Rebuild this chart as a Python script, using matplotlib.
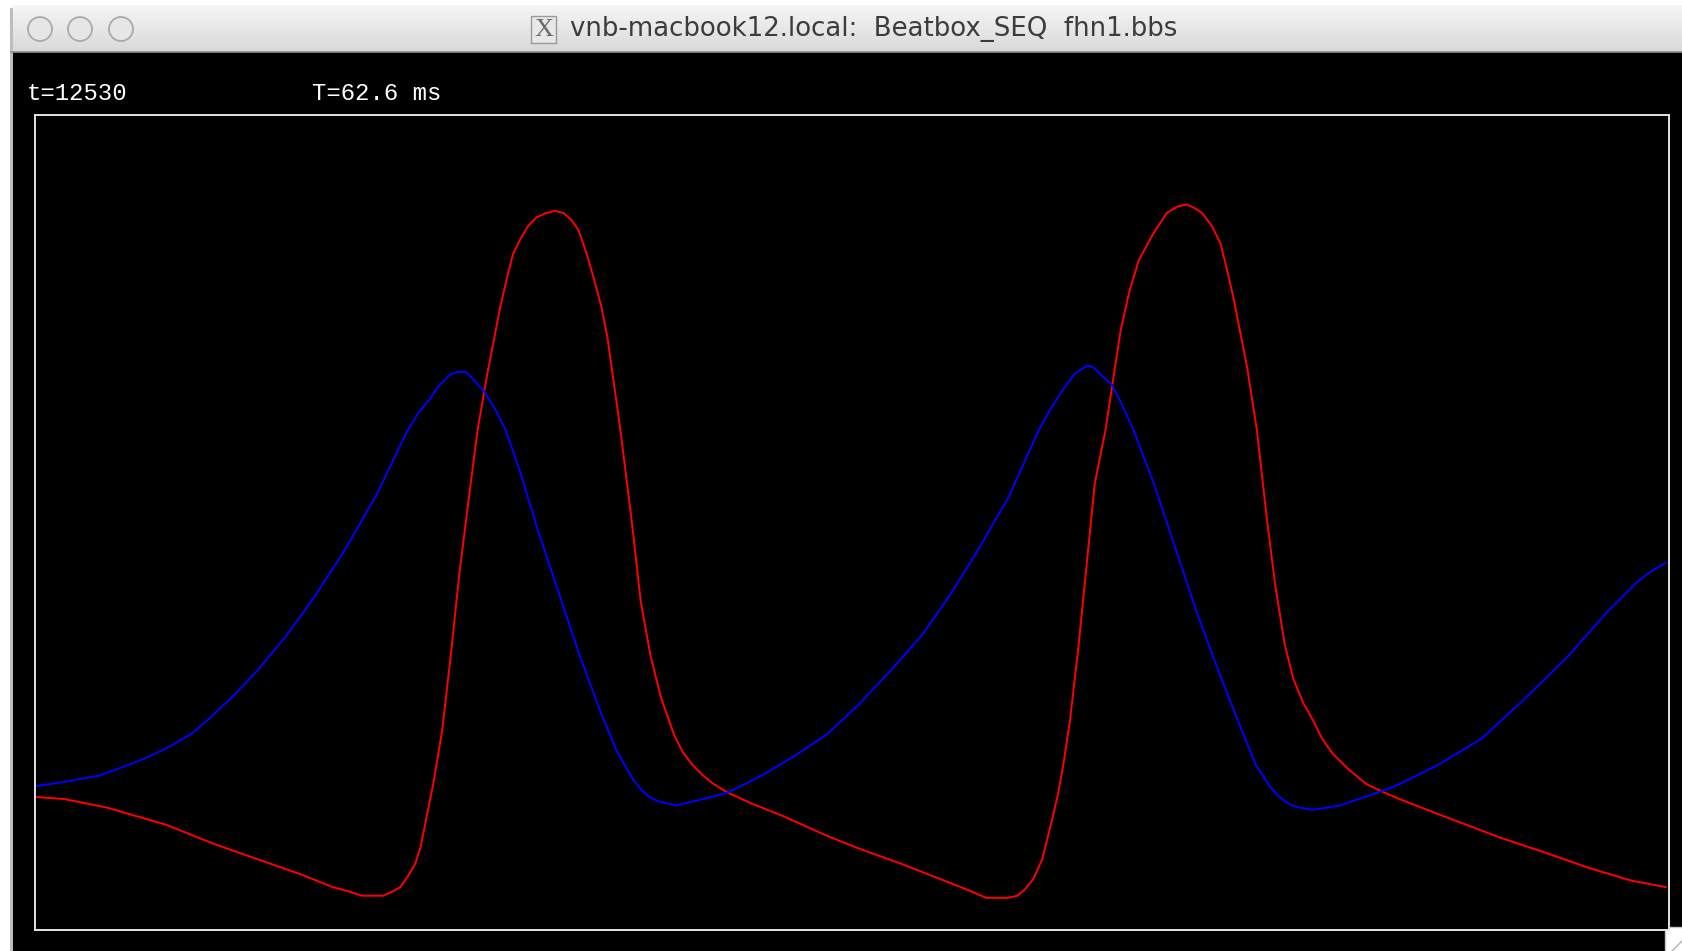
import matplotlib.pyplot as plt
import numpy as np
from matplotlib.patches import FancyBboxPatch, Rectangle, Circle
from matplotlib.colors import LinearSegmentedColormap

# spatial profile along the cable (node units): red = u, blue = v
x_u = [0.0, 2.7, 6.7, 12.2, 16.7, 20.7, 24.7, 27.7, 29.2, 30.4, 31.4, 32.4, 33.3,
       34.0, 34.7, 35.4, 35.9, 36.3, 36.7, 37.1, 37.5, 37.9, 38.7, 39.5, 40.3,
       41.2, 42.1, 43.3, 43.9, 44.5, 45.2, 45.9, 46.7, 47.6, 48.4, 49.2, 49.9,
       50.6, 51.3, 52.0, 52.7, 53.3, 54.5, 55.5, 56.4, 57.3, 58.3, 59.5, 60.3,
       61.2, 62.2, 63.2, 64.5, 66.7, 69.7, 73.7, 76.7, 80.6, 85.2, 87.2, 88.6,
       90.6, 91.5, 92.2, 93.0, 93.8, 94.3, 94.8, 95.3, 95.8, 96.4, 97.2, 97.9,
       98.7, 99.7, 101.1, 101.9, 102.8, 104.1, 105.4, 106.4, 107.3, 108.1, 108.7,
       109.6, 110.4, 111.0, 111.6, 112.9, 113.8, 114.7, 115.5, 116.4, 117.2,
       118.1, 119.0, 119.9, 120.9, 122.3, 124.0, 125.7, 127.1, 130.7, 136.5,
       140.7, 144.7, 148.7, 151.9]
u = [-1.28, -1.29, -1.33, -1.41, -1.50, -1.57, -1.64, -1.70, -1.72, -1.74, -1.74,
     -1.74, -1.72, -1.70, -1.65, -1.59, -1.51, -1.41, -1.31, -1.21, -1.09, -0.97,
     -0.62, -0.24, 0.08, 0.43, 0.69, 1.00, 1.13, 1.25, 1.32, 1.38, 1.42, 1.44,
     1.45, 1.44, 1.41, 1.36, 1.26, 1.14, 1.01, 0.86, 0.43, 0.03, -0.37, -0.62,
     -0.82, -0.99, -1.07, -1.13, -1.18, -1.22, -1.26, -1.31, -1.37, -1.46, -1.52,
     -1.59, -1.68, -1.72, -1.75, -1.75, -1.74, -1.71, -1.66, -1.57, -1.47, -1.37,
     -1.26, -1.12, -0.92, -0.57, -0.22, 0.18, 0.43, 0.89, 1.07, 1.22, 1.34, 1.44,
     1.47, 1.48, 1.46, 1.44, 1.38, 1.30, 1.18, 1.05, 0.72, 0.43, 0.03, -0.29,
     -0.57, -0.73, -0.84, -0.92, -1.01, -1.08, -1.15, -1.22, -1.26, -1.29, -1.36,
     -1.47, -1.54, -1.61, -1.67, -1.70]

x_v = [0.0, 2.7, 6.0, 8.7, 10.7, 12.7, 14.7, 16.3, 17.8, 19.2, 20.7, 23.2, 25.7,
       28.7, 31.7, 34.7, 35.7, 36.7, 37.5, 38.7, 39.4, 40.1, 40.7, 41.8, 42.9,
       43.8, 45.2, 46.7, 48.7, 50.7, 52.7, 54.2, 55.7, 56.5, 57.2, 58.0, 58.9,
       59.7, 60.5, 62.2, 64.5, 67.7, 70.7, 73.7, 76.7, 79.7, 82.7, 85.2, 87.7,
       90.7, 93.5, 94.5, 95.5, 96.8, 97.4, 98.0, 98.6, 99.2, 100.3, 101.3, 102.3,
       104.2, 106.2, 108.2, 110.2, 112.0, 113.7, 115.0, 115.7, 116.4, 117.1,
       117.8, 119.0, 120.3, 121.5, 122.7, 125.6, 127.1, 130.7, 134.7, 138.6,
       142.7, 146.4, 149.2, 150.5, 151.9]
v = [-1.23, -1.21, -1.18, -1.13, -1.09, -1.04, -0.98, -0.91, -0.84, -0.77, -0.69,
     -0.54, -0.37, -0.14, 0.12, 0.43, 0.51, 0.57, 0.63, 0.69, 0.70, 0.70, 0.67,
     0.61, 0.52, 0.43, 0.23, -0.02, -0.32, -0.62, -0.89, -1.07, -1.20, -1.25,
     -1.28, -1.30, -1.31, -1.32, -1.31, -1.29, -1.26, -1.18, -1.09, -0.99, -0.85,
     -0.69, -0.52, -0.34, -0.14, 0.12, 0.43, 0.52, 0.60, 0.69, 0.71, 0.73, 0.72,
     0.69, 0.64, 0.54, 0.43, 0.18, -0.12, -0.42, -0.69, -0.92, -1.13, -1.23,
     -1.27, -1.30, -1.32, -1.33, -1.34, -1.33, -1.32, -1.30, -1.25, -1.22, -1.13,
     -1.01, -0.83, -0.63, -0.42, -0.28, -0.23, -0.19]

step_label = "t=12530"
time_label = "T=62.6 ms"
window_title = "vnb-macbook12.local:  Beatbox_SEQ  fhn1.bbs"

W, H = 1683, 951
fig = plt.figure(figsize=(W / 100, H / 100), dpi=100, facecolor='white')

# --- window chrome, laid out in screen pixels ---
bg = fig.add_axes([0, 0, 1, 1])
bg.axis('off')

bar = FancyBboxPatch((11, 5), W + 20, 80, boxstyle="round,pad=0,rounding_size=7",
                     facecolor='none', edgecolor='none', transform=bg.transData)
bg.add_patch(bar)
grad = np.linspace(0, 1, 64).reshape(-1, 1)
tb_cmap = LinearSegmentedColormap.from_list('tb', ['#f6f6f6', '#d9d9d9'])
img = bg.imshow(grad, cmap=tb_cmap, extent=(11, W, 52, 5), aspect='auto')
img.set_clip_path(bar)

bg.add_patch(Rectangle((13, 52), W, H, facecolor='black', edgecolor='none'))
bg.add_patch(Rectangle((10, 8), 3, H, facecolor='#bdbdbd', edgecolor='none'))
bg.plot([11, W], [52, 52], color='#8e8e8e', lw=1.2)

for cx in (40, 80, 121):
    bg.add_patch(Circle((cx, 29), 12, facecolor='#e6e6e6', edgecolor='#a9a9a9', lw=1.3))

# X11 icon + title
bg.add_patch(Rectangle((531, 16), 25, 27, facecolor='#e8e8e8', edgecolor='#9a9a9a', lw=1))
bg.text(543.5, 30, "X", family=['Liberation Serif', 'DejaVu Serif'], fontsize=19,
        color='#6a6a6a', ha='center', va='center')
bg.text(874, 29, window_title, family=['Liberation Sans Narrow', 'DejaVu Sans'],
        fontsize=18.7, color='#3c3c3c', ha='center', va='center')

bg.text(27, 94, step_label, family=['Liberation Mono', 'DejaVu Sans Mono'],
        fontsize=17.2, color='white', ha='left', va='center')
bg.text(312, 94, time_label, family=['Liberation Mono', 'DejaVu Sans Mono'],
        fontsize=17.2, color='white', ha='left', va='center')

# resize grip
bg.add_patch(Rectangle((1665, 927), 40, 40, facecolor='white', edgecolor='#c8c8c8', lw=1))
bg.plot([1672, 1683], [951, 940], color='#b0b0b0', lw=1)

bg.set_xlim(0, W)
bg.set_ylim(H, 0)

# --- the plot window ---
left, right, top, bottom = 35.4, 1669, 114.8, 929.5
ax = fig.add_axes([left / W, (H - bottom) / H, (right - left) / W, (bottom - top) / H])
ax.set_facecolor('black')
ax.plot(x_u, u, color='#ff0000', lw=1.4)
ax.plot(x_v, v, color='#0000ff', lw=1.4)
ax.set_xlim(0, 152.2)
ax.set_ylim(-1.8975, 1.8975)
ax.set_xticks([])
ax.set_yticks([])
for s in ax.spines.values():
    s.set_color('#e4e4e4')
    s.set_linewidth(1.4)

fig.savefig('out.png', dpi=100, facecolor='white')
